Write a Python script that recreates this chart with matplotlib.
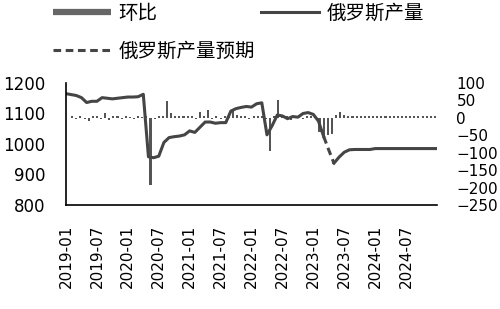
import matplotlib
matplotlib.use("Agg")
import matplotlib.pyplot as plt
from matplotlib.lines import Line2D
import numpy as np

plt.rcParams['font.family'] = ['Noto Sans CJK SC', 'DejaVu Sans']

# monthly axis 2019-01 .. 2025-01
months = [f"{2019 + m // 12}-{m % 12 + 1:02d}" for m in range(73)]
tick_idx = list(range(0, 67, 6))
tick_labels = [months[i] for i in tick_idx]

# 俄罗斯产量 (left axis), NaN where the forecast segment takes over
production = [1165, 1162, 1159, 1152, 1136, 1140, 1140, 1152, 1150, 1148,
              1150, 1152, 1154, 1154, 1155, 1163, 958, 955, 960, 1005,
              1021, 1024, 1026, 1030, 1043, 1038, 1055, 1072, 1072, 1068,
              1070, 1070, 1108, 1116, 1120, 1123, 1121, 1132, 1135, 1030,
              1060, 1095, 1092, 1083, 1090, 1088, 1100, 1103, 1097, 1075,
              1025, np.nan, 937, 957, 973, 981, 982, 982, 982, 982,
              985, 985, 985, 985, 985, 985, 985, 985, 985, 985,
              985, 985, 985]

# 俄罗斯产量预期 (dashed bridge)
forecast = [np.nan] * 50 + [1025, 980, 937] + [np.nan] * 20

# 环比 (right axis), its own finer category axis
mom = [0, 4, -4, 4, -4, -10, 4, 4, -4, 13,
       -5, 4, 4, -4, 4, 3, -4, 4, 3, 4,
       -193, -4, 4, 4, 48, 13, 4, 4, 4, 4,
       6, -4, 18, 4, 23, -4, 4, -4, 4, 4,
       20, 9, 4, 4, -4, 4, 4, 4, -4, -95,
       4, 50, 4, 4, -6, 4, 4, -4, 4, 4,
       4, -40, -58, -50, -45, 9, 16, 8, 4, 4,
       4, 4, 4, 4, 4, 4, 4, 4, 4, 4,
       4, 4, 4, 4, 4, 4, 4, 4, 4, 4]

fig = plt.figure(figsize=(5, 3.09), dpi=100)
pos = [0.132, 0.3366, 0.742, 0.3948]

# bars behind
axb = fig.add_axes(pos)
axb.bar(np.arange(len(mom)), mom, width=0.5, color='#555555')
axb.set_xlim(-0.5, len(mom) - 0.5)
axb.set_ylim(-250, 100)
axb.set_yticks(np.arange(-250, 101, 50))
axb.yaxis.tick_right()
axb.tick_params(axis='y', length=0, pad=14, labelsize=11)
for lab in axb.get_yticklabels():
    lab.set_family('DejaVu Sans')
axb.set_xticks([])
for s in axb.spines.values():
    s.set_visible(False)

# lines on top
ax = fig.add_axes(pos)
ax.patch.set_visible(False)
x = np.arange(len(months))
ax.plot(x, production, color='#454545', lw=2.2, solid_joinstyle='round')
ax.plot(x, forecast, color='#454545', lw=2.2, linestyle=(0, (2.5, 1.5)))
ax.set_xlim(0, len(months) - 1)
ax.set_ylim(800, 1200)
ax.set_yticks(range(800, 1201, 100))
ax.set_xticks(tick_idx)
ax.set_xticklabels(tick_labels, rotation=90, fontsize=11, family='DejaVu Sans')
ax.tick_params(length=0)
ax.tick_params(axis='x', pad=14)
ax.tick_params(axis='y', pad=15, labelsize=12)
for lab in ax.get_yticklabels():
    lab.set_family('DejaVu Sans')
ax.spines['top'].set_visible(False)
ax.spines['right'].set_visible(False)
ax.spines['left'].set_linewidth(1.2)
ax.spines['bottom'].set_linewidth(1.2)

handles = [
    Line2D([], [], color='#666666', lw=4.5, solid_capstyle='butt'),
    Line2D([], [], color='#454545', lw=2.2, linestyle=(0, (2.5, 1.5))),
    Line2D([], [], color='#454545', lw=2.2),
]
labels = ['环比', '俄罗斯产量预期', '俄罗斯产量']
fig.legend(handles, labels, ncol=2, loc='upper left', bbox_to_anchor=(0.07, 1.047),
           frameon=False, fontsize=14, handlelength=3.0, handletextpad=0.4,
           columnspacing=0.3, labelspacing=0.85)

fig.savefig('out.png', dpi=100)
